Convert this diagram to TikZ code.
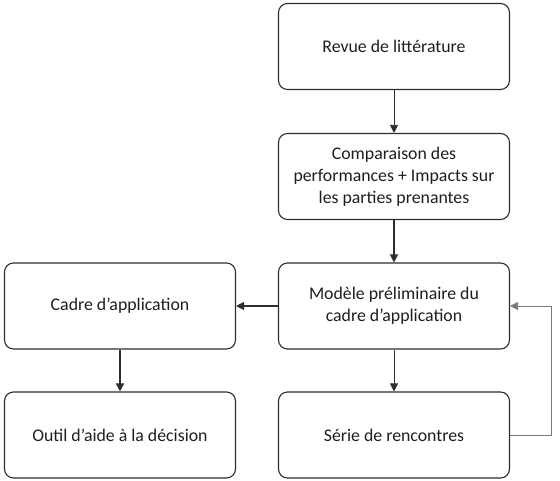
\documentclass[tikz,border=0pt]{standalone}
\usepackage{fontspec}
\setmainfont{Carlito}
\usepackage{tikz}
\usetikzlibrary{arrows.meta,positioning}
\definecolor{boxEdge}{RGB}{45,45,45}
\definecolor{boxText}{RGB}{30,30,30}
\definecolor{loopGray}{RGB}{120,120,120}

\begin{document}
\begin{tikzpicture}[x=1pt,y=-1pt,
    etape/.style={draw=boxEdge,line width=1.1pt,rounded corners=9pt,
      minimum width=231pt,minimum height=86pt,align=center,text=boxText,
      font=\fontsize{17.8}{22}\selectfont},
    fleche/.style={-{Triangle[length=8pt,width=8pt]},line width=0.8pt,draw=boxEdge}]
  \useasboundingbox (0,0) rectangle (560,481);
  % main chain
  \node[etape] (revue)  at (394,46.5)  {Revue de litt\'erature};
  \node[etape] (compar) at (394,176.5) {Comparaison des\\performances + Impacts sur\\les parties prenantes};
  \node[etape] (modele) at (394,306)   {Mod\`ele pr\'eliminaire du\\cadre d'application};
  \node[etape] (serie)  at (394,435)   {S\'erie de rencontres};
  % left column
  \node[etape] (cadre)  at (120,306)   {Cadre d'application};
  \node[etape] (outil)  at (120,435)   {Outil d'aide \`a la d\'ecision};
  % arrows
  \draw[fleche] (revue) -- (compar);
  \draw[fleche,line width=1.2pt] (compar) -- (modele);
  \draw[fleche,line width=1.2pt] (modele) -- (cadre);
  \draw[fleche,line width=1.2pt] (cadre) -- (outil);
  \draw[fleche] (modele) -- (serie);
  % feedback loop
  \draw[fleche,draw=loopGray] (serie.east) -- ++(41,0) |- (modele.east);
\end{tikzpicture}
\end{document}
